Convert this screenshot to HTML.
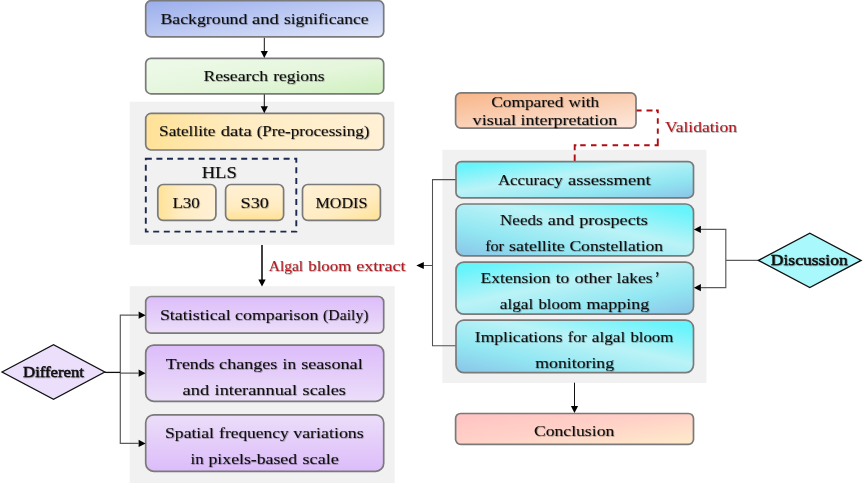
<!DOCTYPE html>
<html lang="en"><head><meta charset="utf-8"><title>Research flowchart</title>
<style>
html,body{margin:0;padding:0;background:#fff;}
body{width:863px;height:483px;overflow:hidden;}
svg{display:block;}
text{font-family:'Liberation Serif', serif;fill:#111;stroke:#111;stroke-width:0.07px;}
.t{font-size:15.6px;}
.b{stroke-width:0.5px;}
.r{fill:#b01c22;stroke:#b01c22;}
.box{stroke:#7a7a7a;stroke-width:1.7;}
.ln{stroke:#5c5c5c;stroke-width:1.2;fill:none;}
.ah{fill:#000;stroke:none;}
</style></head><body>
<svg width="863" height="483" viewBox="0 0 863 483">
<defs>
<linearGradient id="gBlue" x1="0" y1="0" x2="1" y2="1"><stop offset="0" stop-color="#9baeec"/><stop offset="1" stop-color="#e0e6fa"/></linearGradient>
<linearGradient id="gGreen" x1="0" y1="0" x2="1" y2="1"><stop offset="0" stop-color="#eefaea"/><stop offset="0.55" stop-color="#e5f6dc"/><stop offset="1" stop-color="#cff0bf"/></linearGradient>
<linearGradient id="gYelH" x1="0" y1="0" x2="1" y2="0"><stop offset="0" stop-color="#ffe296"/><stop offset="0.4" stop-color="#ffecc2"/><stop offset="1" stop-color="#fff1d6"/></linearGradient>
<linearGradient id="gYelL" x1="0" y1="0" x2="1" y2="0"><stop offset="0" stop-color="#ffe296"/><stop offset="0.4" stop-color="#ffecc2"/><stop offset="1" stop-color="#fff1d6"/></linearGradient>
<linearGradient id="gYelS" x1="0" y1="0" x2="0" y2="1"><stop offset="0" stop-color="#fff1d6"/><stop offset="0.6" stop-color="#ffecc2"/><stop offset="1" stop-color="#ffe296"/></linearGradient>
<linearGradient id="gYelM" x1="0" y1="0" x2="1" y2="1"><stop offset="0" stop-color="#fff1d6"/><stop offset="0.6" stop-color="#ffecc2"/><stop offset="1" stop-color="#ffe296"/></linearGradient>
<linearGradient id="gPurD" x1="0" y1="0" x2="0" y2="1"><stop offset="0" stop-color="#dcbcfa"/><stop offset="1" stop-color="#ecdef9"/></linearGradient>
<linearGradient id="gPurU" x1="0" y1="0" x2="0" y2="1"><stop offset="0" stop-color="#ecdef9"/><stop offset="1" stop-color="#dcbcfa"/></linearGradient>
<linearGradient id="gOr" x1="0" y1="0" x2="0.8" y2="1"><stop offset="0" stop-color="#f8b588"/><stop offset="0.5" stop-color="#facdb0"/><stop offset="1" stop-color="#fde4d6"/></linearGradient>
<linearGradient id="gCy1" x1="0" y1="0" x2="1" y2="1"><stop offset="0" stop-color="#60f5fd"/><stop offset="0.1" stop-color="#6af4fb"/><stop offset="0.42" stop-color="#baf3f7"/><stop offset="0.72" stop-color="#92e7f2"/><stop offset="1" stop-color="#8ac4e8"/></linearGradient>
<linearGradient id="gCy2" x1="1" y1="0" x2="0" y2="1"><stop offset="0" stop-color="#60f5fd"/><stop offset="0.1" stop-color="#6af4fb"/><stop offset="0.42" stop-color="#baf3f7"/><stop offset="0.72" stop-color="#92e7f2"/><stop offset="1" stop-color="#8ac4e8"/></linearGradient>
<linearGradient id="gPink" x1="0" y1="0" x2="1" y2="1"><stop offset="0" stop-color="#ffc2c2"/><stop offset="0.5" stop-color="#ffd2c8"/><stop offset="1" stop-color="#ffeccb"/></linearGradient>
<filter id="ts" x="-5%" y="-30%" width="110%" height="170%"><feDropShadow dx="0.7" dy="0.7" stdDeviation="0.6" flood-color="#000" flood-opacity="0.4"/></filter>
</defs>
<rect width="863" height="483" fill="#fff"/>
<rect x="129.7" y="101.7" width="264.6" height="143.1" fill="#f1f1f1"/>
<rect x="129.7" y="286.2" width="265" height="196.8" fill="#f1f1f1"/>
<rect x="442.4" y="149.8" width="264" height="233.2" fill="#f1f1f1"/>
<rect class="box" x="145.7" y="0.7" width="238" height="36.2" rx="5.4" ry="5.4" fill="url(#gBlue)"/>
<rect class="box" x="145.7" y="58.3" width="238" height="35.5" rx="5.3" ry="5.3" fill="url(#gGreen)"/>
<rect class="box" x="145.7" y="113.4" width="238" height="36.6" rx="5.4" ry="5.4" fill="url(#gYelH)"/>
<path class="ln" style="stroke-width:1;stroke:#111" d="M264.3 37.8V52"/>
<path class="ah" d="M260.7 51L267.9 51L264.3 58Z"/>
<path class="ln" style="stroke-width:1;stroke:#111" d="M264.3 94.4V107.2"/>
<path class="ah" d="M260.7 106.2L267.9 106.2L264.3 113.2Z"/>
<rect x="145.8" y="158.8" width="150.5" height="72.8" fill="none" stroke="#1b2a4e" stroke-width="1.9" stroke-dasharray="6 4.6"/>
<rect class="box" x="157.8" y="184.5" width="58.1" height="35.9" rx="5.3" ry="5.3" fill="url(#gYelL)"/>
<rect class="box" x="225.6" y="184.5" width="58" height="35.9" rx="5.3" ry="5.3" fill="url(#gYelS)"/>
<rect class="box" x="302.5" y="184.5" width="77.9" height="35.9" rx="5.3" ry="5.3" fill="url(#gYelM)"/>
<path class="ln" style="stroke-width:1.6;stroke:#111" d="M262 245V280.5"/>
<path class="ah" d="M258.3 279.5L265.7 279.5L262 286.4Z"/>
<rect class="box" x="145.7" y="296.5" width="238" height="36.7" rx="5.4" ry="5.4" fill="url(#gPurD)"/>
<rect class="box" x="145.7" y="345.1" width="238" height="56.2" rx="8" ry="8" fill="url(#gPurD)"/>
<rect class="box" x="145.7" y="414.8" width="238" height="56.5" rx="8" ry="8" fill="url(#gPurU)"/>
<path class="ln" d="M120.3 373.1H138.5M138.5 315.2H120.3V443.4H138.5"/>
<path class="ln" style="stroke:#111;stroke-width:1.3" d="M104.5 372.4H120.3"/>
<path class="ah" d="M138.6 311.6L138.6 318.8L145.6 315.2Z"/>
<path class="ah" d="M138.6 369.6L138.6 376.8L145.6 373.2Z"/>
<path class="ah" d="M138.6 439.8L138.6 447L145.6 443.4Z"/>
<path d="M2 372L53.5 344.8L104.8 372L53.5 399.2Z" fill="#ecdffc" stroke="#111" stroke-width="1.3" stroke-linejoin="miter"/>
<rect class="box" x="455.6" y="92.8" width="180.4" height="35.4" rx="5.2" ry="5.2" fill="url(#gOr)"/>
<path d="M574.7 161V154.6M574.7 150.2V145.2H576.4M580.2 145.2h5.5M591 145.2h5.5M601.8 145.2h5.5M612.6 145.2h5.5M623.4 145.2h5.5M633.9 145.2h5.5M644.2 145.2h5.5M654.6 145.2H657.8V138.6M657.8 133.8V128.4M657.8 123.7V118.3M657.8 113.2V110.5H656M652.5 110.5H646.5M641.6 110.5H636.6" fill="none" stroke="#b00d12" stroke-width="1.9"/>
<rect class="box" x="456" y="161.6" width="237.5" height="36.2" rx="5.4" ry="5.4" fill="url(#gCy1)"/>
<rect class="box" x="456" y="204" width="237.5" height="51.9" rx="7.7" ry="7.7" fill="url(#gCy2)"/>
<rect class="box" x="456" y="262.2" width="237.5" height="52" rx="7.7" ry="7.7" fill="url(#gCy1)"/>
<rect class="box" x="456" y="320.2" width="237.5" height="52.4" rx="7.8" ry="7.8" fill="url(#gCy2)"/>
<rect class="box" x="455.6" y="413.5" width="237.9" height="30.8" rx="5" ry="5" fill="url(#gPink)"/>
<path class="ln" style="stroke-width:1;stroke:#111" d="M574.5 382.7V407"/>
<path class="ah" d="M570.9 406L578.1 406L574.5 413Z"/>
<path class="ln" style="stroke:#505050;stroke-width:1.05" d="M455.5 179.6H432.5V345.8H455.5M432.5 265.5H423"/>
<path class="ah" d="M423.8 261.9L423.8 269.1L416.3 265.5Z"/>
<path class="ln" d="M758.4 260.4H725.8M700.5 229.4H725.8V287.7H700.5"/>
<path class="ah" d="M700.9 225.8L700.9 233L693.9 229.4Z"/>
<path class="ah" d="M700.9 284.1L700.9 291.3L693.9 287.7Z"/>
<path d="M758.4 260.4L809.8 233.2L861.1 260.4L809.8 287.5Z" fill="#a9f8fc" stroke="#111" stroke-width="1.3"/>
<g filter="url(#ts)">
<text class="t" y="23.8"><tspan x="160.5" textLength="86.8" lengthAdjust="spacingAndGlyphs">Background</tspan> <tspan x="251.9" textLength="26.8" lengthAdjust="spacingAndGlyphs">and</tspan> <tspan x="283.9" textLength="84.6" lengthAdjust="spacingAndGlyphs">significance</tspan></text>
<text class="t" y="80.6"><tspan x="203.4" textLength="64.7" lengthAdjust="spacingAndGlyphs">Research</tspan> <tspan x="273.2" textLength="51.4" lengthAdjust="spacingAndGlyphs">regions</tspan></text>
<text class="t" y="136.3"><tspan x="159.1" textLength="56.2" lengthAdjust="spacingAndGlyphs">Satellite</tspan> <tspan x="220.7" textLength="31.1" lengthAdjust="spacingAndGlyphs">data</tspan> <tspan x="256.7" textLength="112.7" lengthAdjust="spacingAndGlyphs">(Pre-processing)</tspan></text>
<text class="t" style="font-size:17.6px" y="178.1"><tspan x="201.7" textLength="35.1" lengthAdjust="spacingAndGlyphs">HLS</tspan></text>
<text class="t" y="207.9"><tspan x="172.4" textLength="27.4" lengthAdjust="spacingAndGlyphs">L30</tspan></text>
<text class="t" y="207.9"><tspan x="240.6" textLength="28.2" lengthAdjust="spacingAndGlyphs">S30</tspan></text>
<text class="t" y="207.9"><tspan x="315.5" textLength="51.9" lengthAdjust="spacingAndGlyphs">MODIS</tspan></text>
<text class="t r" y="270.7"><tspan x="268.7" textLength="34.5" lengthAdjust="spacingAndGlyphs">Algal</tspan> <tspan x="308.3" textLength="42.9" lengthAdjust="spacingAndGlyphs">bloom</tspan> <tspan x="356.2" textLength="49.4" lengthAdjust="spacingAndGlyphs">extract</tspan></text>
<text class="t" y="319.7"><tspan x="159.9" textLength="70.8" lengthAdjust="spacingAndGlyphs">Statistical</tspan> <tspan x="235.1" textLength="83.3" lengthAdjust="spacingAndGlyphs">comparison</tspan> <tspan x="323.1" textLength="45.4" lengthAdjust="spacingAndGlyphs">(Daily)</tspan></text>
<text class="t" y="368.7"><tspan x="165.8" textLength="48.7" lengthAdjust="spacingAndGlyphs">Trends</tspan> <tspan x="219.1" textLength="58.3" lengthAdjust="spacingAndGlyphs">changes</tspan> <tspan x="282.6" textLength="13.5" lengthAdjust="spacingAndGlyphs">in</tspan> <tspan x="301.2" textLength="61.5" lengthAdjust="spacingAndGlyphs">seasonal</tspan></text>
<text class="t" y="394.7"><tspan x="182.6" textLength="26.6" lengthAdjust="spacingAndGlyphs">and</tspan> <tspan x="214.6" textLength="82.5" lengthAdjust="spacingAndGlyphs">interannual</tspan> <tspan x="302.6" textLength="43.3" lengthAdjust="spacingAndGlyphs">scales</tspan></text>
<text class="t" y="438.1"><tspan x="165.0" textLength="49.0" lengthAdjust="spacingAndGlyphs">Spatial</tspan> <tspan x="219.1" textLength="69.5" lengthAdjust="spacingAndGlyphs">frequency</tspan> <tspan x="293.2" textLength="70.6" lengthAdjust="spacingAndGlyphs">variations</tspan></text>
<text class="t" y="464.2"><tspan x="190.6" textLength="13.2" lengthAdjust="spacingAndGlyphs">in</tspan> <tspan x="208.5" textLength="88.6" lengthAdjust="spacingAndGlyphs">pixels-based</tspan> <tspan x="302.6" textLength="36.1" lengthAdjust="spacingAndGlyphs">scale</tspan></text>
<text class="t b" y="376.5"><tspan x="23.1" textLength="60.8" lengthAdjust="spacingAndGlyphs">Different</tspan></text>
<text class="t" y="107.4"><tspan x="491.3" textLength="72.1" lengthAdjust="spacingAndGlyphs">Compared</tspan> <tspan x="568.6" textLength="30.5" lengthAdjust="spacingAndGlyphs">with</tspan></text>
<text class="t" y="124.6"><tspan x="472.6" textLength="43.4" lengthAdjust="spacingAndGlyphs">visual</tspan> <tspan x="520.6" textLength="96.7" lengthAdjust="spacingAndGlyphs">interpretation</tspan></text>
<text class="t r" y="131.9"><tspan x="665.1" textLength="71.8" lengthAdjust="spacingAndGlyphs">Validation</tspan></text>
<text class="t" y="184.7"><tspan x="497.9" textLength="64.7" lengthAdjust="spacingAndGlyphs">Accuracy</tspan> <tspan x="568.0" textLength="82.6" lengthAdjust="spacingAndGlyphs">assessment</tspan></text>
<text class="t" y="224.8"><tspan x="500.1" textLength="42.5" lengthAdjust="spacingAndGlyphs">Needs</tspan> <tspan x="547.8" textLength="26.3" lengthAdjust="spacingAndGlyphs">and</tspan> <tspan x="579.2" textLength="68.7" lengthAdjust="spacingAndGlyphs">prospects</tspan></text>
<text class="t" y="250.6"><tspan x="485.2" textLength="18.8" lengthAdjust="spacingAndGlyphs">for</tspan> <tspan x="509.1" textLength="55.6" lengthAdjust="spacingAndGlyphs">satellite</tspan> <tspan x="569.4" textLength="93.7" lengthAdjust="spacingAndGlyphs">Constellation</tspan></text>
<text class="t" y="282.7"><tspan x="480.6" textLength="70.0" lengthAdjust="spacingAndGlyphs">Extension</tspan> <tspan x="555.8" textLength="13.5" lengthAdjust="spacingAndGlyphs">to</tspan> <tspan x="574.4" textLength="37.0" lengthAdjust="spacingAndGlyphs">other</tspan> <tspan x="616.6" textLength="36.1" lengthAdjust="spacingAndGlyphs">lakes</tspan></text>
<text class="t" style="font-size:19px;stroke-width:0.3px" x="655" y="284.9" textLength="4.4" lengthAdjust="spacingAndGlyphs">’</text>
<text class="t" y="309"><tspan x="499.8" textLength="33.5" lengthAdjust="spacingAndGlyphs">algal</tspan> <tspan x="538.5" textLength="42.8" lengthAdjust="spacingAndGlyphs">bloom</tspan> <tspan x="586.4" textLength="62.8" lengthAdjust="spacingAndGlyphs">mapping</tspan></text>
<text class="t" y="341.8"><tspan x="474.8" textLength="87.8" lengthAdjust="spacingAndGlyphs">Implications</tspan> <tspan x="567.8" textLength="18.8" lengthAdjust="spacingAndGlyphs">for</tspan> <tspan x="591.8" textLength="33.4" lengthAdjust="spacingAndGlyphs">algal</tspan> <tspan x="630.4" textLength="42.8" lengthAdjust="spacingAndGlyphs">bloom</tspan></text>
<text class="t" y="367.7"><tspan x="535.3" textLength="78.8" lengthAdjust="spacingAndGlyphs">monitoring</tspan></text>
<text class="t" y="436.2"><tspan x="533.9" textLength="80.4" lengthAdjust="spacingAndGlyphs">Conclusion</tspan></text>
<text class="t b" y="265.4"><tspan x="770.8" textLength="77.0" lengthAdjust="spacingAndGlyphs">Discussion</tspan></text>
</g>
</svg>
</body></html>
